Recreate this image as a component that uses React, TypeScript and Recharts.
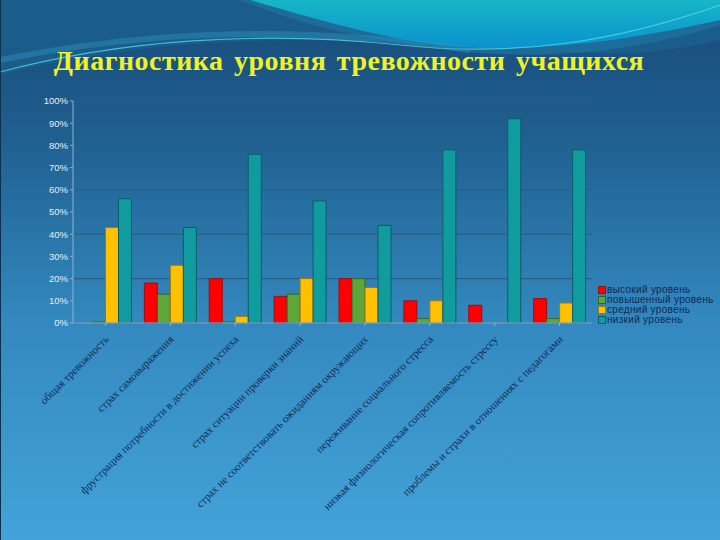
import { Bar, BarChart, CartesianGrid, XAxis, YAxis } from "recharts"

const categories = [
  "общая тревожность",
  "страх самовыражения",
  "фрустрация потребности в достижении успеха",
  "страх ситуации проверки знаний",
  "страх не соответствовать ожиданиям окружающих",
  "переживание социального стресса",
  "низкая физиологическая сопротивляемость стрессу",
  "проблемы и страхи в отношениях с педагогами",
]

const high = [0, 18, 20, 12, 20, 10, 8, 11]
const elevated = [0.5, 13, 0.5, 13, 20, 2, 0, 2]
const medium = [43, 26, 3, 20, 16, 10, 0, 9]
const low = [56, 43, 76, 55, 44, 78, 92, 78]

const yTicks = [0, 10, 20, 30, 40, 50, 60, 70, 80, 90, 100]

const seriesNames = ["высокий уровень", "повышенный уровень", "средний уровень", "низкий уровень"]

const data = categories.map((name, i) => ({
  name,
  high: high[i],
  elevated: elevated[i],
  medium: medium[i],
  low: low[i],
}))

const series = [
  { key: "high", label: seriesNames[0], fill: "#ff0000", stroke: "#9a1010" },
  { key: "elevated", label: seriesNames[1], fill: "#5ea53a", stroke: "#2f6a25" },
  { key: "medium", label: seriesNames[2], fill: "#ffc000", stroke: "#a07a10" },
  { key: "low", label: seriesNames[3], fill: "#109c9e", stroke: "#0b5e66" },
]

function CategoryTick({ x, y, payload }: any) {
  return (
    <text
      x={x + 4}
      y={y + 12}
      transform={`rotate(-45, ${x + 4}, ${y + 12})`}
      textAnchor="end"
      fontFamily="'Liberation Serif', 'DejaVu Serif', serif"
      fontSize={11}
      fill="#0d2b55"
    >
      {payload.value}
    </text>
  )
}

function LegendBox() {
  return (
    <div
      style={{
        position: "absolute",
        left: 598,
        top: 285,
        fontFamily: "'Liberation Sans', Arial, sans-serif",
        fontSize: 10,
        letterSpacing: 0.3,
        color: "#0d2b55",
        lineHeight: "10px",
      }}
    >
      {series.map((s) => (
        <div key={s.key} style={{ display: "flex", alignItems: "center", whiteSpace: "nowrap" }}>
          <span style={{ width: 6, height: 6, background: s.fill, border: `1px solid ${s.stroke}`, marginRight: 1 }} />
          {s.label}
        </div>
      ))}
    </div>
  )
}

export default function App() {
  return (
    <div
      style={{
        position: "absolute",
        left: 0,
        top: 0,
        width: 720,
        height: 540,
        overflow: "hidden",
        background: "linear-gradient(180deg, #174a78 0%, #1f5f8f 25%, #3389bf 60%, #43a3d8 100%)",
      }}
    >
      <svg width={720} height={540} style={{ position: "absolute", left: 0, top: 0 }}>
        <defs>
          <linearGradient id="cyan" x1="0" y1="0" x2="0" y2="1">
            <stop offset="0%" stopColor="#16b6c6" />
            <stop offset="100%" stopColor="#0a92cf" />
          </linearGradient>
        </defs>
        <path d="M0,0 L720,0 L720,40 C600,70 520,40 300,40 C180,40 80,55 0,75 Z" fill="#1b5d8a" />
        <path d="M0,0 L720,0 L720,25 C640,50 560,60 470,52 C380,44 300,25 240,0 Z" fill="#1f74a0" opacity="0.7" />
        <path d="M250,0 L720,0 L720,20 C640,38 560,50 480,48 C400,45 320,20 250,0 Z" fill="url(#cyan)" />
        <path d="M0,72 C120,40 260,30 400,45 C520,58 620,40 720,5" fill="none" stroke="#4fd8e0" strokeWidth={1.2} opacity="0.8" />
        <path d="M0,60 C150,30 300,25 470,50" fill="none" stroke="#2a9ac0" strokeWidth={6} opacity="0.4" />
        <line x1={0.5} y1={0} x2={0.5} y2={540} stroke="#0c3050" />
      </svg>
      <div
        style={{
          position: "absolute",
          left: 0,
          top: 45,
          width: 698,
          textAlign: "center",
          fontFamily: "'Liberation Serif', 'Times New Roman', serif",
          fontWeight: "bold",
          fontSize: 28,
          color: "#eef226",
          letterSpacing: 0.5,
          wordSpacing: 3,
          whiteSpace: "nowrap",
        }}
      >
        Диагностика уровня тревожности учащихся
      </div>
      <div style={{ position: "absolute", left: 0, top: 0 }}>
        <BarChart
          width={720}
          height={540}
          data={data}
          margin={{ top: 101, right: 128, bottom: 0, left: 31 }}
          barCategoryGap="10%"
          barGap={0}
        >
          <CartesianGrid vertical={false} stroke="#2a5f85" strokeWidth={1.2} />
          <XAxis
            dataKey="name"
            interval={0}
            height={217}
            tick={<CategoryTick />}
            tickLine={{ stroke: "#8fb3cc" }}
            tickSize={3}
            axisLine={{ stroke: "#8fb3cc" }}
          />
          <YAxis
            domain={[0, 100]}
            ticks={yTicks}
            width={42}
            tickFormatter={(v) => `${v}%`}
            tick={{ fill: "#e6eef6", fontSize: 9.5, fontFamily: "'Liberation Sans', Arial, sans-serif" }}
            tickLine={{ stroke: "#8fb3cc" }}
            tickSize={3}
            axisLine={{ stroke: "#8fb3cc" }}
          />
          {series.map((s) => (
            <Bar
              key={s.key}
              dataKey={s.key}
              name={s.label}
              fill={s.fill}
              stroke={s.stroke}
              strokeWidth={1}
              isAnimationActive={false}
            />
          ))}
        </BarChart>
      </div>
      <LegendBox />
    </div>
  )
}
